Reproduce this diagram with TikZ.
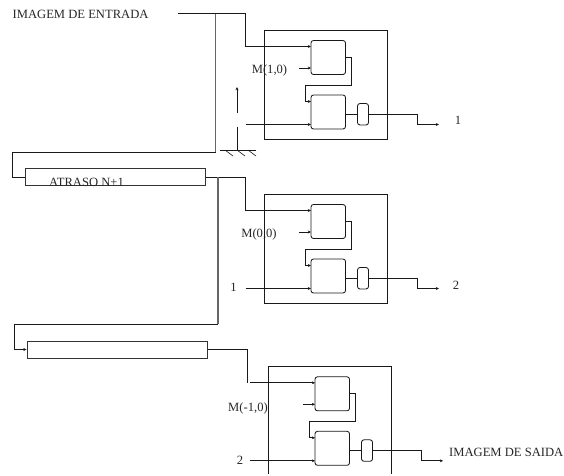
\documentclass[tikz,border=0pt]{standalone}
\usepackage{fontspec}
\setmainfont{Liberation Serif}
\usetikzlibrary{arrows.meta}
\tikzset{
  wire/.style={line width=0.85pt,black!90},
  long/.style={line width=1.1pt,black!60},
  tip/.style={wire,-{Stealth[length=3.2pt,width=3pt]}},
  lbl/.style={inner sep=0pt,font=\fontsize{12.6}{14}\selectfont,text=black!85},
  outer/.style={draw,line width=0.85pt,black!90,minimum width=123pt,minimum height=109pt,inner sep=0pt},
  block/.style={draw,line width=0.85pt,black!90,rounded corners=2.5pt,minimum width=34.5pt,minimum height=34pt,inner sep=0pt},
  small/.style={draw,line width=0.85pt,black!90,rounded corners=2.5pt,minimum width=11pt,minimum height=21.5pt,inner sep=0pt},
  delay/.style={draw,line width=0.95pt,black!80,minimum width=180.5pt,minimum height=17pt,inner sep=0pt}
}
% #1 prefix, #2 dx, #3 dy
\newcommand{\modulo}[3]{%
  \begin{scope}[shift={(#2,#3)}]
    \node[outer] (#1box) at (326,84.5) {};
    \node[block] (#1top) at (328.25,57.5) {};
    \node[block] (#1bot) at (328.25,112) {};
    \node[small] (#1amp) at (363,114.25) {};
    \coordinate (#1ina) at (311,46.5);
    \coordinate (#1inb) at (311,68);
    \coordinate (#1inc) at (311,124.5);
    \coordinate (#1ind) at (311,101.5);
    \coordinate (#1srcb) at (299,68);
    \coordinate (#1srcc) at (245.5,124.5);
    \coordinate (#1o) at (345.5,57);
    \coordinate (#1c) at (345.5,114.25);
    \coordinate (#1d) at (357.5,114.25);
    \coordinate (#1e) at (368.5,114.25);
    \coordinate (#1end) at (439,124.5);
    \draw[tip] (#1srcb) -- (#1inb);
    \draw[tip] (#1srcc) -- (#1inc);
    \draw[tip] (#1o) -- ++(6,0) -- ++(0,28) -- (305,85) -- (305,101.5) -- (#1ind);
    \draw[wire] (#1c) -- (#1d);
    \draw[tip] (#1e) -- (417.5,114.25) -- (417.5,124.5) -- (#1end);
  \end{scope}}
\begin{document}
\begin{tikzpicture}[x=1pt,y=-1pt]
\useasboundingbox (0,0) rectangle (564,475);
\clip (0,0) rectangle (564,473.8);
\modulo{a}{0}{0}
\modulo{b}{0}{164}
\modulo{c}{4}{336.3}
\node[delay] (d1) at (115.25,177) {};
\node[delay] (d2) at (117.25,349.5) {};
% labels
\node[lbl,anchor=west] (tin) at (12.5,14) {IMAGEM DE ENTRADA};
\node[lbl,anchor=west] (tout) at (449,452) {IMAGEM DE SAIDA};
\node[lbl] (t1) at (86.5,182.2) {ATRASO N+1};
\node[lbl] (m1) at (269.5,70) {M(1,0)};
\node[lbl] (m2) at (259,234) {M(0,0)};
\node[lbl] (m3) at (248,408) {M(-1,0)};
\node[lbl] (o1) at (458,120.5) {1};
\node[lbl] (o2) at (456,285) {2};
\node[lbl] (i1) at (233.5,287) {1};
\node[lbl] (i2) at (240,460.5) {2};
% input to first module
\coordinate (start) at (178,13.5);
\coordinate (j1) at (215.5,13.5);
\draw[tip] (start) -- (245.5,13.5) -- (245.5,46.5) -- (aina);
\draw[long] (j1) -- (215.5,152);
\draw[wire] (215.5,152) -- (12.5,152) -- (12.5,177) -- (d1.west);
% from first delay
\coordinate (j2) at (218,177);
\draw[tip] (d1.east) -- (245.5,177) -- (245.5,210.5) -- (bina);
\draw[long] (j2) -- (218,324);
\draw[tip] (218,324) -- (14.5,324) -- (14.5,349.5) -- (d2.west);
% from second delay
\coordinate (gapa) at (247.7,382.7);
\coordinate (gapb) at (250,382.8);
\draw[wire] (d2.east) -- (247.7,349.5) -- (gapa);
\draw[tip] (gapb) -- (cina);
% ground and switch
\coordinate (arra) at (237,113);
\coordinate (arrb) at (237,87);
\coordinate (gnd) at (237,150);
\coordinate (sw) at (237,126.5);
\draw[tip] (arra) -- (arrb);
\draw[wire] (sw) -- (gnd);
\draw[wire] (220,150) -- (256,150);
\foreach \x in {225,237,248}{\draw[wire,line width=0.6pt] (\x,150) -- (\x+8,156);}
\end{tikzpicture}
\end{document}
